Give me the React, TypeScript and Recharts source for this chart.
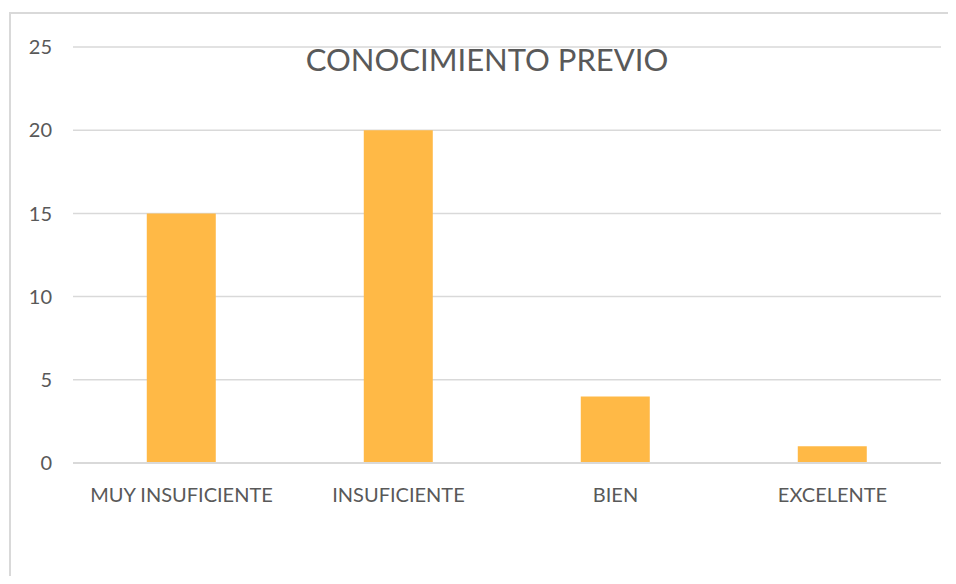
import React from "react";
import { BarChart, Bar, XAxis, YAxis, CartesianGrid } from "recharts";

const categories = ["MUY INSUFICIENTE", "INSUFICIENTE", "BIEN", "EXCELENTE"];
const values = [15, 20, 4, 1];
const yTicks = [0, 5, 10, 15, 20, 25];
const title = "CONOCIMIENTO PREVIO";

const data = categories.map((c, i) => ({ name: c, value: values[i] }));

const FONT = "Lato, 'Open Sans', sans-serif";
const TEXT = "#595959";
const GRID = "#d9d9d9";

export default function App() {
  return (
    <div
      style={{
        position: "relative",
        width: 940,
        height: 576,
        marginBottom: -8,
        overflow: "visible",
        fontFamily: FONT,
      }}
    >
      <div style={{ position: "absolute", left: 1, top: 4, width: 947, height: 2, background: GRID }} />
      <div style={{ position: "absolute", left: 1, top: 4, width: 2, height: 572, background: GRID }} />
      <BarChart
        width={940}
        height={576}
        data={data}
        margin={{ top: 39, right: 7, bottom: 91, left: 0 }}
        barCategoryGap="34%"
        style={{ position: "absolute", left: 0, top: 0 }}
      >
        <CartesianGrid vertical={false} stroke={GRID} strokeWidth={1.5} />
        <XAxis
          dataKey="name"
          height={30}
          axisLine={{ stroke: GRID, strokeWidth: 2 }}
          tickLine={false}
          tickSize={0}
          tickMargin={25}
          interval={0}
          tick={{ fill: TEXT, fontSize: 20, fontFamily: FONT }}
        />
        <YAxis
          width={65}
          domain={[0, 25]}
          ticks={yTicks}
          axisLine={false}
          tickLine={false}
          tickSize={0}
          tickMargin={21}
          tick={{ fill: TEXT, fontSize: 20, fontFamily: FONT }}
        />
        <Bar dataKey="value" fill="#ffb946" isAnimationActive={false} />
      </BarChart>
      <div
        style={{
          position: "absolute",
          left: 0,
          width: 940,
          top: 31,
          textAlign: "center",
          transform: "translateX(9px)",
          fontSize: 31,
          color: TEXT,
          fontFamily: FONT,
          lineHeight: "40px",
        }}
      >
        {title}
      </div>
    </div>
  );
}
